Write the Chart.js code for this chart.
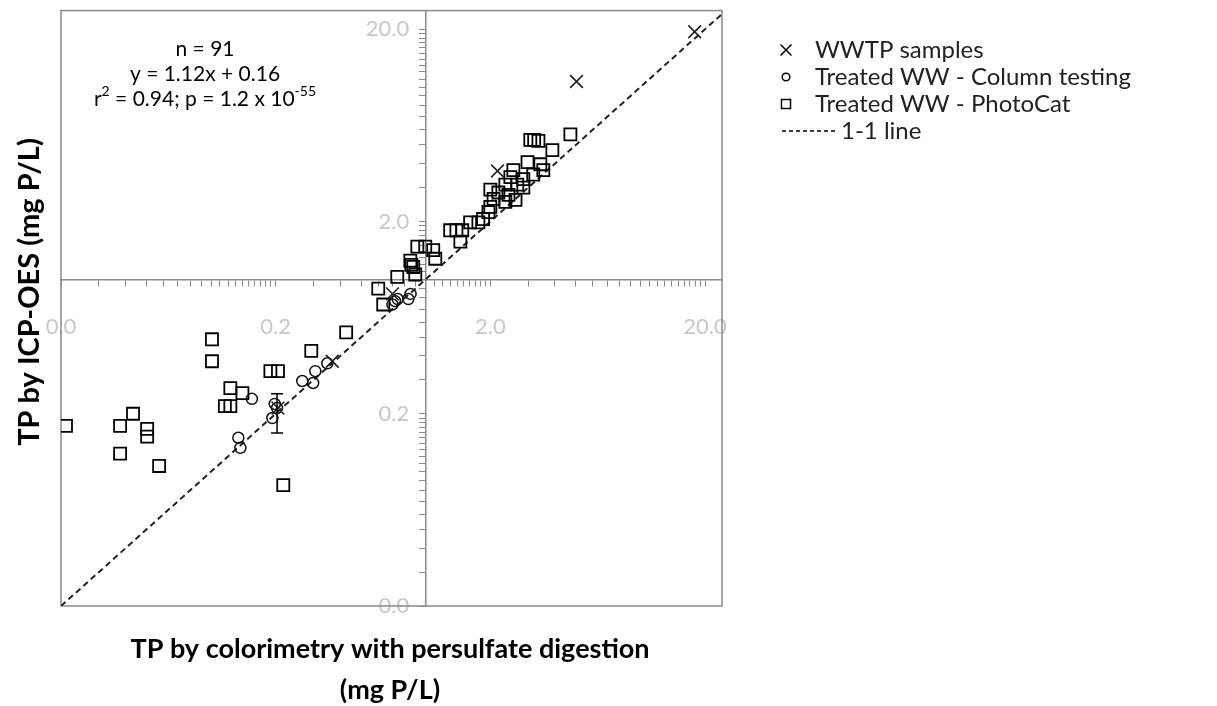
<!DOCTYPE html>
<html>
<head>
<meta charset="utf-8">
<script src="https://cdn.jsdelivr.net/npm/chart.js@4.4.1/dist/chart.umd.min.js"></script>
<style>
  html, body { margin: 0; padding: 0; background: #fff; }
  #wrap { position: relative; width: 1217px; height: 706px; }
</style>
</head>
<body>
<div id="wrap"><canvas id="tpChart"></canvas></div>
<script>
// log axes, both from 0.02
const majorTicks = [0.02, 0.2, 2, 20];
const axisMin = 0.02;
const xMax = 24;
const yMax = 25;
const crossAt = 1;

// WWTP samples
const wwtpX = [17.9, 5.04, 2.16, 0.70, 0.367, 0.205];
const wwtpY = [19.4, 10.7, 3.66, 0.84, 0.375, 0.214];

// Treated WW - Column testing
const colX = [0.306, 0.266, 0.299, 0.348, 0.155, 0.203, 0.198, 0.193, 0.134, 0.137, 0.70, 0.74, 0.83, 0.85, 0.72];
const colY = [0.333, 0.296, 0.289, 0.366, 0.239, 0.214, 0.225, 0.190, 0.150, 0.133, 0.74, 0.79, 0.79, 0.84, 0.77];

// Treated WW - PhotoCat
const photoX = [0.0211, 0.0433, 0.0377, 0.0504, 0.0504, 0.0377, 0.0573, 0.101, 0.101, 0.123, 0.140, 0.116, 0.123,
  0.189, 0.205, 0.293, 0.426, 0.217,
  0.601, 0.634, 0.737, 0.848, 0.857, 0.875, 0.894, 0.914, 0.995, 1.084, 1.108,
  1.30, 1.39, 1.48, 1.45, 1.61, 1.76, 1.85, 1.96, 2.0, 2.07, 2.0, 2.18, 2.35, 2.43, 2.62,
  2.35, 2.67, 2.85, 2.48, 2.85, 2.56, 3.17, 2.98, 3.42, 3.53, 3.89, 3.07, 3.2, 3.35, 4.72];
const photoY = [0.173, 0.200, 0.173, 0.167, 0.152, 0.124, 0.107, 0.488, 0.375, 0.272, 0.256, 0.219, 0.219,
  0.333, 0.333, 0.425, 0.530, 0.085,
  0.895, 0.740, 1.03, 1.25, 1.19, 1.16, 1.06, 1.48, 1.48, 1.42, 1.28,
  1.80, 1.80, 1.80, 1.57, 1.98, 1.98, 2.06, 2.24, 2.38, 2.62, 2.93, 2.83, 2.53, 2.75, 2.59,
  3.11, 3.11, 3.00, 3.40, 3.32, 3.70, 3.51, 4.07, 3.97, 3.70, 4.70, 5.32, 5.32, 5.25, 5.68];

// 1-1 line
const lineX = [0.02, 24];
const lineY = [0.02, 24];

// error bar (column testing point)
const errX = [0.203];
const errLow = [0.159];
const errHigh = [0.254];

const seriesNames = ["WWTP samples", "Treated WW - Column testing", "Treated WW - PhotoCat", "1-1 line"];
const statsText = ["n = 91", "y = 1.12x + 0.16"];
const xTitle = ["TP by colorimetry with persulfate digestion", "(mg P/L)"];
const yTitle = "TP by ICP-OES (mg P/L)";

const FONT = "Lato, 'Liberation Sans', sans-serif";
const AXIS_GRAY = "#8a8a8a";
const LABEL_GRAY = "#c8c8c8";

function toPoints(xs, ys) {
  return xs.map((x, i) => ({ x: x, y: ys[i] }));
}

// minor ticks every half-decade-start step (0.03, 0.04 ... 0.19, 0.3 ...)
function logTicks(max) {
  let vals = [];
  majorTicks.forEach(d => {
    for (let k = 0; k < 18; k++) {
      let v = +(d * (1 + k / 2)).toPrecision(6);
      if (v <= max) vals.push(v);
    }
  });
  return vals;
}

function isMajor(v) {
  return majorTicks.some(m => Math.abs(v / m - 1) < 1e-6);
}

function axisOpts(isX, max) {
  return {
    type: "logarithmic",
    min: axisMin,
    max: max,
    position: isX ? { y: crossAt } : { x: crossAt },
    afterBuildTicks: function(scale) {
      scale.ticks = logTicks(max).map(v => ({ value: v }));
    },
    afterFit: function(scale) {
      scale.paddingLeft = 0; scale.paddingRight = 0;
      scale.paddingTop = 0; scale.paddingBottom = 0;
    },
    grid: {
      display: true,
      drawOnChartArea: false,
      drawTicks: true,
      tickLength: 6,
      color: AXIS_GRAY,
      lineWidth: 1
    },
    border: { display: true, color: AXIS_GRAY, width: 1.5 },
    ticks: {
      autoSkip: false,
      maxRotation: 0,
      padding: isX ? 28 : 0,
      color: LABEL_GRAY,
      font: { family: FONT, size: 22 },
      callback: function(value) {
        if (!isMajor(value)) return "";
        let s = Number(value).toFixed(1);
        return isX ? s : s + "\u2003";
      }
    }
  };
}

const decorPlugin = {
  id: "decor",
  beforeDatasetsDraw(chart) {
    const { ctx, chartArea: a } = chart;
    ctx.save();
    ctx.strokeStyle = AXIS_GRAY;
    ctx.lineWidth = 1.5;
    ctx.strokeRect(a.left, a.top, a.right - a.left, a.bottom - a.top);
    ctx.restore();
  },
  afterDatasetsDraw(chart) {
    const { ctx } = chart;
    const xs = chart.scales.x, ys = chart.scales.y;
    ctx.save();
    ctx.strokeStyle = "#000";
    ctx.lineWidth = 1.5;
    errX.forEach((v, i) => {
      let px = xs.getPixelForValue(v);
      let p1 = ys.getPixelForValue(errLow[i]);
      let p2 = ys.getPixelForValue(errHigh[i]);
      ctx.beginPath();
      ctx.moveTo(px, p1); ctx.lineTo(px, p2);
      ctx.moveTo(px - 6, p1); ctx.lineTo(px + 6, p1);
      ctx.moveTo(px - 6, p2); ctx.lineTo(px + 6, p2);
      ctx.stroke();
    });
    ctx.restore();
  },
  afterDraw(chart) {
    const { ctx } = chart;
    ctx.save();
    ctx.fillStyle = "#000";

    // stats box
    ctx.font = "21px " + FONT;
    ctx.textAlign = "center";
    ctx.textBaseline = "middle";
    ctx.fillText(statsText[0], 205, 49);
    ctx.fillText(statsText[1], 205, 74);
    // r^2 line with superscripts
    let parts = [["r", false], ["2", true], [" = 0.94; p = 1.2 x 10", false], ["-55", true]];
    let w = 0;
    parts.forEach(p => { ctx.font = (p[1] ? "14px " : "21px ") + FONT; w += ctx.measureText(p[0]).width; });
    let cx = 205 - w / 2;
    ctx.textAlign = "left";
    parts.forEach(p => {
      ctx.font = (p[1] ? "14px " : "21px ") + FONT;
      ctx.fillText(p[0], cx, p[1] ? 91 : 99);
      cx += ctx.measureText(p[0]).width;
    });

    // axis titles
    ctx.font = "bold 27px " + FONT;
    ctx.textAlign = "center";
    ctx.fillText(xTitle[0], 390, 649);
    ctx.fillText(xTitle[1], 390, 690);
    ctx.font = "bold 29px " + FONT;
    ctx.translate(30, 292);
    ctx.rotate(-Math.PI / 2);
    ctx.fillText(yTitle, 0, 0);
    ctx.setTransform(1, 0, 0, 1, 0, 0);

    // legend
    const mx = 786, tx = 815;
    const rows = [50, 77, 104, 131];
    ctx.font = "24px " + FONT;
    ctx.textAlign = "left";
    ctx.fillStyle = "#222";
    seriesNames.forEach((name, i) => {
      ctx.fillText(name, i === 3 ? tx + 26 : tx, rows[i]);
    });
    ctx.strokeStyle = "#000";
    ctx.lineWidth = 1.5;
    let y0 = rows[0];
    ctx.beginPath();
    ctx.moveTo(mx - 5.5, y0 - 5.5); ctx.lineTo(mx + 5.5, y0 + 5.5);
    ctx.moveTo(mx - 5.5, y0 + 5.5); ctx.lineTo(mx + 5.5, y0 - 5.5);
    ctx.stroke();
    ctx.beginPath();
    ctx.arc(mx, rows[1], 3.8, 0, Math.PI * 2);
    ctx.stroke();
    ctx.strokeRect(mx - 4.5, rows[2] - 4.5, 9, 9);
    ctx.setLineDash([4, 3]);
    ctx.beginPath();
    ctx.moveTo(mx - 4, rows[3]); ctx.lineTo(mx + 50, rows[3]);
    ctx.stroke();
    ctx.restore();
  }
};

const ctx = document.getElementById("tpChart").getContext("2d");
const tpChart = new Chart(ctx, {
  type: "scatter",
  data: {
    datasets: [
      {
        label: seriesNames[0],
        data: toPoints(wwtpX, wwtpY),
        pointStyle: "crossRot",
        pointRadius: 9,
        borderColor: "#222",
        borderWidth: 1.6
      },
      {
        label: seriesNames[1],
        data: toPoints(colX, colY),
        pointStyle: "circle",
        pointRadius: 5.5,
        backgroundColor: "rgba(0,0,0,0)",
        borderColor: "#111",
        borderWidth: 1.5
      },
      {
        label: seriesNames[2],
        data: toPoints(photoX, photoY),
        pointStyle: "rect",
        pointRadius: 8.5,
        backgroundColor: "rgba(0,0,0,0)",
        borderColor: "#000",
        borderWidth: 1.8
      },
      {
        type: "line",
        label: seriesNames[3],
        data: toPoints(lineX, lineY),
        showLine: true,
        borderColor: "#222",
        borderWidth: 2,
        borderDash: [6, 4],
        pointRadius: 0,
        fill: false
      }
    ]
  },
  options: {
    responsive: true,
    maintainAspectRatio: false,
    animation: false,
    layout: { padding: { left: 61, top: 7, right: 495, bottom: 100 } },
    plugins: {
      legend: { display: false },
      tooltip: { enabled: false }
    },
    scales: {
      x: axisOpts(true, xMax),
      y: axisOpts(false, yMax)
    }
  },
  plugins: [decorPlugin]
});
</script>
</body>
</html>
